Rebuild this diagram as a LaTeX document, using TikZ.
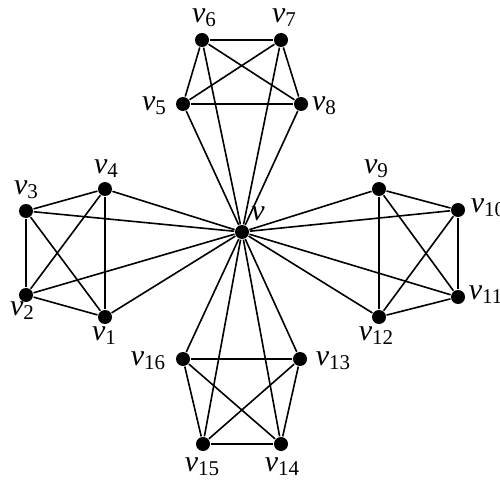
\documentclass[tikz,border=0pt]{standalone}
\usepackage{fontspec}
\setmainfont{Liberation Serif}
\newcommand{\vlab}[1]{\textit{v}\raisebox{-0.3ex}{\fontsize{21}{22}\selectfont #1}}
\begin{document}
\begin{tikzpicture}[x=1pt, y=-1pt, line width=1.6pt,
  dot/.style={circle, fill=black, inner sep=0pt, minimum size=14pt},
  lbl/.style={inner sep=0pt, font=\fontsize{30}{32}\selectfont}]
  \clip (0,0) rectangle (500,481);
  % Titik pusat
  \node[dot] (v) at (242,232) {};
  \node[lbl] (lv) at (258,214) {\textit{v}};

  % Titik-titik dan label
  \foreach \n/\x/\y/\lx/\ly in {
    1/105/317/104/336, 2/26/295/22/311, 3/26/211/26/190, 4/105/189/106/169,
    5/183/104/154/106, 6/202/40/204/18, 7/281/40/284/18, 8/301/104/324/106,
    9/379/189/376/169, 12/379/317/376/336,
    13/300/359/333/361, 14/281/444/282/467, 15/203/444/202/467, 16/183/359/148/361%
  } {
    \node[dot] (v\n) at (\x,\y) {};
    \node[lbl] (l\n) at (\lx,\ly) {\vlab{\n}};
  }
  % Label yang terpotong di tepi kanan
  \node[dot] (v10) at (458,210) {};
  \node[lbl, anchor=west] (l10) at (470,208) {\vlab{10}};
  \node[dot] (v11) at (458,297) {};
  \node[lbl, anchor=west] (l11) at (468,295) {\vlab{11}};

  % Sisi: tiap kelompok bersama v membentuk K5
  \foreach \a/\b/\c/\d in {1/2/3/4, 5/6/7/8, 9/10/11/12, 13/14/15/16} {
    \draw (v) -- (v\a);
    \draw (v) -- (v\b);
    \draw (v) -- (v\c);
    \draw (v) -- (v\d);
    \draw (v\a) -- (v\b);
    \draw (v\a) -- (v\c);
    \draw (v\a) -- (v\d);
    \draw (v\b) -- (v\c);
    \draw (v\b) -- (v\d);
    \draw (v\c) -- (v\d);
  }
\end{tikzpicture}
\end{document}
